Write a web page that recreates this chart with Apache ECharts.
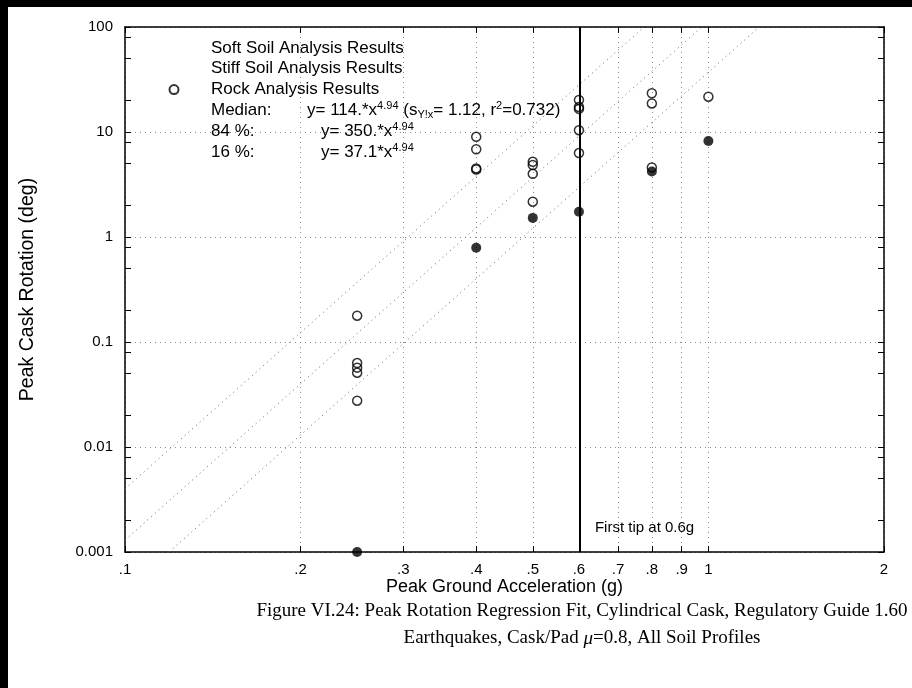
<!DOCTYPE html>
<html>
<head>
<meta charset="utf-8">
<script src="https://cdn.jsdelivr.net/npm/echarts@6/dist/echarts.min.js"></script>
<style>
html, body { margin: 0; padding: 0; background: #fff; }
#chart { width: 912px; height: 688px; }
</style>
</head>
<body>
<div id="chart"></div>
<script>
// values: peak ground acceleration (g) and peak cask rotation (deg)
var rockPga = [0.25, 0.25, 0.25, 0.25, 0.25, 0.4, 0.4, 0.4, 0.4, 0.5, 0.5, 0.5, 0.5,
               0.6, 0.6, 0.6, 0.6, 0.6, 0.8, 0.8, 0.8, 1.0];
var rockRot = [0.178, 0.063, 0.057, 0.051, 0.0276, 9.0, 6.85, 4.5, 4.4, 5.2, 4.85, 4.0, 2.17,
               20.2, 17.3, 16.6, 10.4, 6.3, 23.4, 18.7, 4.6, 21.7];
var soilPga = [0.25, 0.4, 0.5, 0.6, 0.8, 1.0];
var soilRot = [0.001, 0.79, 1.52, 1.74, 4.2, 8.2];
var stiffPga = [];
var stiffRot = [];

// regression lines (end points, from the fit equations)
var medianLine = [[0.1, 0.0013], [0.974, 100]];
var p84Line = [[0.1, 0.0040], [0.776, 100]];
var p16Line = [[0.119, 0.001], [1.222, 100]];

var firstTip = 0.6;
var firstTipLabelAt = 0.0017;

// axis ticks
var xTicks = [0.1, 0.2, 0.3, 0.4, 0.5, 0.6, 0.7, 0.8, 0.9, 1, 2];
var yDecades = [0.001, 0.01, 0.1, 1, 10, 100];
var yMinor = [2, 5, 8];

var legendNames = ['Soft Soil Analysis Results', 'Stiff Soil Analysis Results',
                   'Rock Analysis Results', 'Median', '84 %', '16 %'];
var legendText = {
    'Median': '{lab|Median:}y= 114.*x{sup|4.94} (s{sub|Y!x}= 1.12, r{sup|2}=0.732)',
    '84 %': '{lab2|84 %:}y= 350.*x{sup|4.94}',
    '16 %': '{lab2|16 %:}y= 37.1*x{sup|4.94}'
};

function lg(v) { return Math.log10(v); }
function toLog(xs, ys) {
    return xs.map(function (x, i) { return [lg(x), lg(ys[i])]; });
}
function lineToLog(pts) {
    return pts.map(function (p) { return [lg(p[0]), lg(p[1])]; });
}

var yTickVals = [];
yDecades.forEach(function (d, i) {
    yTickVals.push(lg(d));
    if (i < yDecades.length - 1) {
        yMinor.forEach(function (m) { yTickVals.push(lg(d * m)); });
    }
});

var font = 'Liberation Sans, Arial, sans-serif';
var black = '#000';

function xFmt(v) {
    var s = String(Math.round(Math.pow(10, v) * 100) / 100);
    return s.charAt(0) === '0' ? s.slice(1) : s;
}
function yFmt(v) {
    return String(Math.round(Math.pow(10, v) * 1000) / 1000);
}

var xMin = lg(xTicks[0]), xMax = lg(xTicks[xTicks.length - 1]);
var yMin = lg(yDecades[0]), yMax = lg(yDecades[yDecades.length - 1]);

var chart = echarts.init(document.getElementById('chart'));

var hidden = { opacity: 0, color: 'rgba(0,0,0,0)' };
var gridLine = { show: true, lineStyle: { color: '#8a8a8a', width: 1, type: [1, 4] } };
var frame = { onZero: false, lineStyle: { color: black, width: 1.5 } };
var fitStyle = { color: '#666', width: 1, type: [1, 4] };

chart.setOption({
    animation: false,
    backgroundColor: '#fff',
    title: {
        text: 'Figure VI.24: Peak Rotation Regression Fit, Cylindrical Cask, Regulatory Guide 1.60\nEarthquakes, Cask/Pad {mu|\u03bc}=0.8, All Soil Profiles',
        left: 577,
        top: 593,
        textAlign: 'center',
        textStyle: {
            fontFamily: 'Liberation Serif, Times New Roman, serif',
            fontSize: 19, fontWeight: 'normal', color: black, lineHeight: 27,
            rich: { mu: { fontFamily: 'Liberation Serif', fontSize: 19, fontStyle: 'italic', color: black } }
        }
    },
    grid: { left: 125, right: 28, top: 27, bottom: 136 },
    legend: {
        orient: 'vertical',
        left: 136, top: 33,
        itemWidth: 64, itemHeight: 9, itemGap: 0.8,
        selectedMode: false,
        formatter: function (name) { return legendText[name] || name; },
        textStyle: {
            fontFamily: font, fontSize: 17, color: black, lineHeight: 20,
            rich: {
                lab: { width: 96, fontFamily: font, fontSize: 17, lineHeight: 20 },
                lab2: { width: 110, fontFamily: font, fontSize: 17, lineHeight: 20 },
                sup: { fontFamily: font, fontSize: 11, verticalAlign: 'top', lineHeight: 6 },
                sub: { fontFamily: font, fontSize: 11, verticalAlign: 'bottom', lineHeight: 10 }
            }
        },
        data: [
            { name: legendNames[0], icon: 'none' },
            { name: legendNames[1], icon: 'none' },
            { name: legendNames[2], icon: 'circle' },
            { name: legendNames[3], itemStyle: hidden, lineStyle: hidden },
            { name: legendNames[4], itemStyle: hidden, lineStyle: hidden },
            { name: legendNames[5], itemStyle: hidden, lineStyle: hidden }
        ]
    },
    xAxis: [{
        type: 'value', position: 'bottom', min: xMin, max: xMax,
        name: 'Peak Ground Acceleration (g)', nameLocation: 'middle', nameGap: 26,
        nameMoveOverlap: false,
        nameTextStyle: { fontFamily: font, fontSize: 18, color: black },
        axisLine: frame,
        axisTick: { inside: true, length: 6, customValues: xTicks.map(lg), lineStyle: { color: black } },
        axisLabel: { customValues: xTicks.map(lg), formatter: xFmt, margin: 10,
                     fontFamily: font, fontSize: 15, color: black },
        splitLine: gridLine
    }, {
        type: 'value', position: 'top', min: xMin, max: xMax,
        axisLine: frame,
        axisTick: { inside: true, length: 6, customValues: xTicks.map(lg), lineStyle: { color: black } },
        axisLabel: { show: false },
        splitLine: { show: false }
    }],
    yAxis: [{
        type: 'value', position: 'left', min: yMin, max: yMax,
        name: 'Peak Cask Rotation (deg)', nameLocation: 'middle', nameGap: 87,
        nameTextStyle: { fontFamily: font, fontSize: 19.5, color: black },
        axisLine: frame,
        axisTick: { inside: true, length: 6, customValues: yTickVals, lineStyle: { color: black } },
        axisLabel: { customValues: yDecades.map(lg), formatter: yFmt, margin: 12,
                     fontFamily: font, fontSize: 15, color: black },
        splitLine: { show: false }
    }, {
        type: 'value', position: 'right', min: yMin, max: yMax,
        axisLine: frame,
        axisTick: { inside: true, length: 6, customValues: yTickVals, lineStyle: { color: black } },
        axisLabel: { show: false },
        splitLine: { show: false }
    }, {
        // decade grid lines only
        type: 'value', position: 'left', min: yMin, max: yMax,
        axisLine: { show: false, onZero: false },
        axisTick: { show: false, customValues: yDecades.map(lg) },
        axisLabel: { show: false },
        splitLine: gridLine
    }],
    series: [{
        name: legendNames[0],
        type: 'scatter',
        data: toLog(soilPga, soilRot),
        symbol: 'circle', symbolSize: 10,
        itemStyle: { color: black },
        clip: false,
        z: 4,
        markLine: {
            silent: true, symbol: 'none',
            label: { show: false },
            lineStyle: { color: black, width: 2, type: 'solid' },
            data: [{ xAxis: lg(firstTip) }]
        },
        markPoint: {
            silent: true, symbol: 'circle', symbolSize: 0,
            label: { show: true, position: 'right', distance: 16, formatter: 'First tip at 0.6g',
                     fontFamily: font, fontSize: 15, color: black },
            data: [{ coord: [lg(firstTip), lg(firstTipLabelAt)] }]
        }
    }, {
        name: legendNames[1],
        type: 'scatter',
        data: toLog(stiffPga, stiffRot)
    }, {
        name: legendNames[2],
        type: 'scatter',
        data: toLog(rockPga, rockRot),
        symbol: 'circle', symbolSize: 9,
        itemStyle: { color: 'rgba(255,255,255,0)', borderColor: black, borderWidth: 1.5 },
        z: 5
    }, {
        name: legendNames[3],
        type: 'line', data: lineToLog(medianLine), showSymbol: false, symbol: 'none',
        lineStyle: fitStyle, z: 1
    }, {
        name: legendNames[4],
        type: 'line', data: lineToLog(p84Line), showSymbol: false, symbol: 'none',
        lineStyle: fitStyle, z: 1
    }, {
        name: legendNames[5],
        type: 'line', data: lineToLog(p16Line), showSymbol: false, symbol: 'none',
        lineStyle: fitStyle, z: 1
    }],
    graphic: [
        { type: 'rect', left: 0, top: 0, shape: { width: 8, height: 688 }, style: { fill: '#000' }, silent: true },
        { type: 'rect', left: 0, top: 0, shape: { width: 912, height: 7 }, style: { fill: '#000' }, silent: true }
    ]
});
</script>
</body>
</html>
